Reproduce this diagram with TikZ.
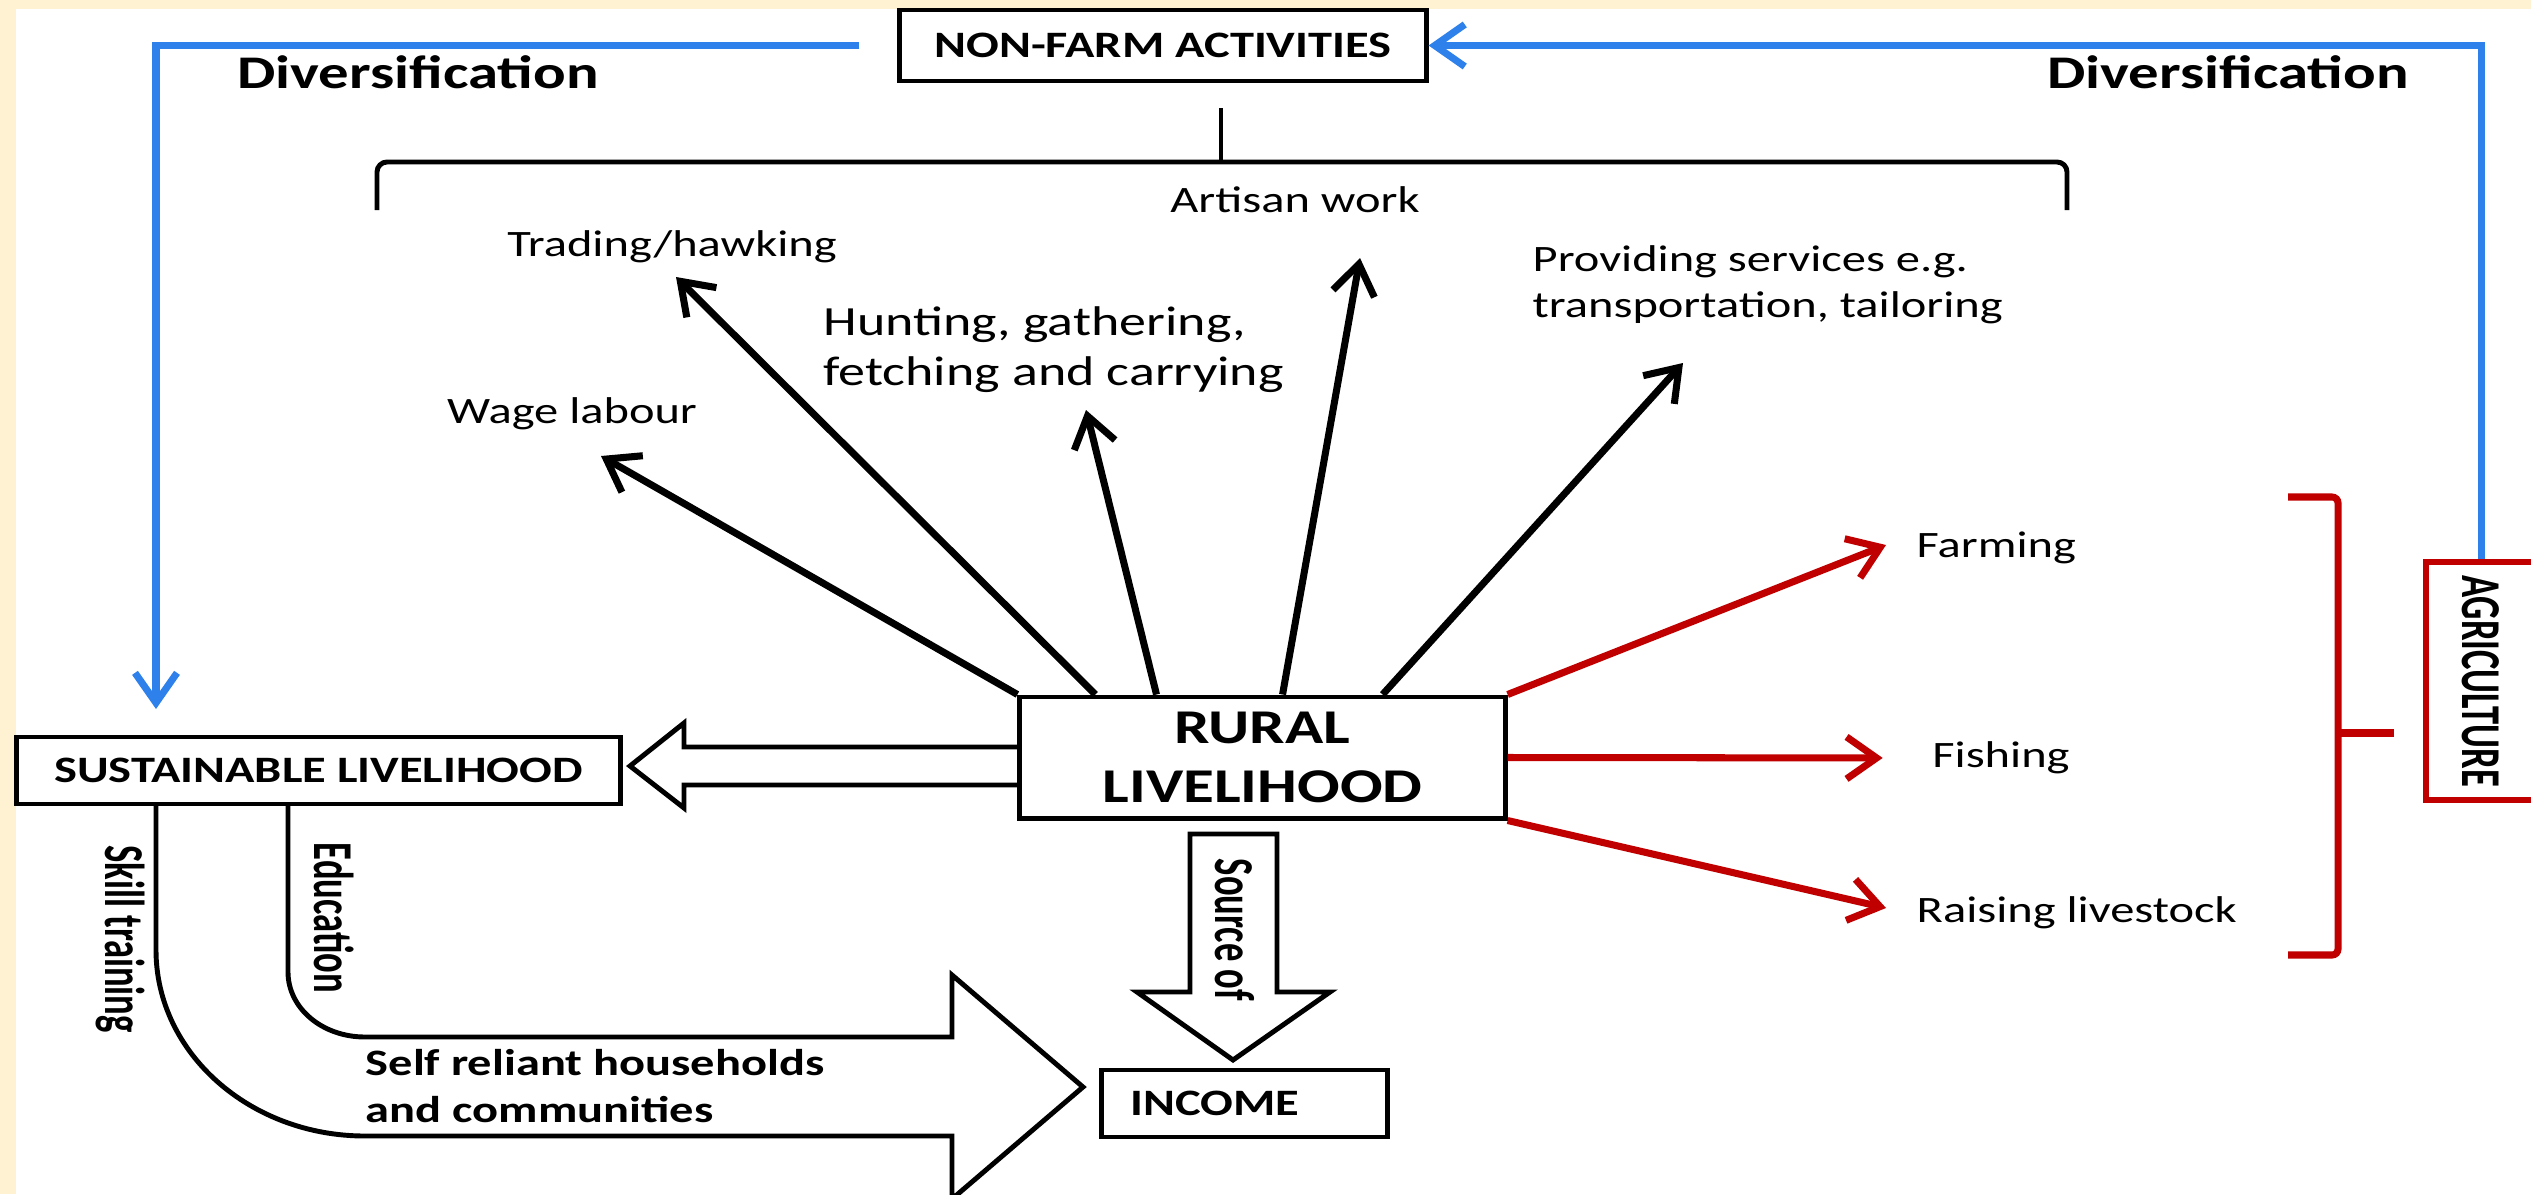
\documentclass[tikz,border=0pt]{standalone}
\usepackage{fontspec}
\setmainfont{Carlito}[FakeStretch=1.3]
\newfontfamily\vertfont{Carlito}[FakeStretch=0.65]
\usetikzlibrary{arrows.meta}
\definecolor{cream}{RGB}{255,242,210}
\definecolor{divblue}{RGB}{46,128,235}
\definecolor{agred}{RGB}{192,0,0}
\begin{document}
\begin{tikzpicture}[x=0.01cm,y=-0.01cm,
  box/.style={draw,line width=1.4pt,inner sep=0pt,font=\fontsize{10.6}{13}\selectfont\bfseries},
  lab/.style={inner sep=0pt,font=\fontsize{10.6}{13}\selectfont},
  vlab/.style={inner sep=0pt,rotate=-90,font=\vertfont\fontsize{16}{19}\selectfont\bfseries},
  div/.style={inner sep=0pt,font=\fontsize{13.3}{16}\selectfont\bfseries},
  tip/.style={-{Straight Barb[length=0.3cm,width=0.42cm]},line width=2pt},
  hollow/.style={line width=1.4pt,line join=miter}]
\fill[cream] (0,0) rectangle (2531,1194);
\fill[white] (16,9) rectangle (2531,1194);
\useasboundingbox (0,0) rectangle (2531,1194);

\node[box,minimum width=5.26cm,minimum height=0.71cm] (nf) at (1163,45.5) {NON-FARM ACTIVITIES};
\node[box,minimum width=4.85cm,minimum height=1.21cm,align=center,font=\fontsize{13.8}{16.8}\selectfont\bfseries] (rl) at (1262.5,757.5) {RURAL\\LIVELIHOOD};
\node[box,minimum width=6.03cm,minimum height=0.67cm] (sl) at (318.5,770.5) {SUSTAINABLE LIVELIHOOD};
\node[box,anchor=west,minimum height=0.67cm,text width=2.28cm,inner xsep=0.29cm] (inc) at (1099,1103.5) {INCOME};
\node[box,draw=agred,line width=1.7pt,rotate=-90,minimum width=2.38cm,minimum height=1.1cm,font=\vertfont\fontsize{16}{19}\selectfont\bfseries] (ag) at (2481,681) {AGRICULTURE};

\node[div] (dl) at (418,72) {Diversification};
\node[div] (dr) at (2228,72) {Diversification};
\node[lab] (tr) at (672,247) {Trading/hawking};
\node[lab] (aw) at (1295,200) {Artisan work};
\node[lab,anchor=west,align=left,font=\fontsize{11.8}{14.2}\selectfont] (hg) at (823,350) {Hunting, gathering,\\fetching and carrying};
\node[lab] (wl) at (572,414) {Wage labour};
\node[lab,anchor=west,align=left] (ps) at (1532,285) {Providing services e.g.\\transportation, tailoring};
\node[lab,anchor=west] (fa) at (1916,548) {Farming};
\node[lab] (fi) at (2001,758) {Fishing};
\node[lab,anchor=west] (rs) at (1916,913) {Raising livestock};
\node[lab,anchor=west,align=left,font=\fontsize{10.6}{13.4}\selectfont\bfseries] (sr) at (365,1086) {Self reliant households\\and communities};
\node[vlab] (st) at (120,939) {Skill training};
\node[vlab] (ed) at (334,918) {Education};
\node[vlab] (so) at (1235,930) {Source of};

\coordinate (t1) at (601,456);
\coordinate (t2) at (676,277);
\coordinate (t3) at (1086,410);
\coordinate (t4) at (1360,258);
\coordinate (t5) at (1683,363);
\coordinate (t6) at (1886,545);
\coordinate (t8) at (1886,908);
\coordinate (d1) at (156,709);

\draw[tip,divblue,shorten <=0.38cm] (nf.west) -| (d1);
\draw[tip,divblue] (ag.west) |- (nf.east);
\draw[line width=1.4pt,rounded corners=0.1cm] (377,210) -- (377,162) -- (2067,162) -- (2067,210);
\draw[line width=1.4pt] (1221,162) -- (1221,108);

\draw[tip] (rl.north west) -- (t1);
\draw[tip] ([xshift=0.78cm]rl.north west) -- (t2);
\draw[tip] ([xshift=1.39cm]rl.north west) -- (t3);
\draw[tip] ([xshift=2.65cm]rl.north west) -- (t4);
\draw[tip] ([xshift=3.65cm]rl.north west) -- (t5);
\draw[tip,agred] (rl.north east) -- (t6);
\draw[tip,agred,shorten >=0.49cm] (rl.east) -- (fi.west);
\draw[tip,agred] (rl.south east) -- (t8);
\draw[agred,line width=2pt,rounded corners=0.06cm] (2288,497) -- (2338,497) -- (2338,955) -- (2288,955);
\draw[agred,line width=2pt] (2338,733) -- (2394,733);

\draw[hollow] (1020,747) -- (684,747) -- (684,723) -- (630,766) -- (684,808) -- (684,785) -- (1020,785);
\draw[hollow] (1190,834) -- (1277,834) -- (1277,992) -- (1330,992) -- (1233,1060) -- (1137,992) -- (1190,992) -- cycle;
\draw[hollow] (156,804) -- (156,950) .. controls (156,1053) and (250,1136) .. (365,1136) -- (952,1136) -- (952,1199) -- (1083,1087) -- (952,975) -- (952,1037) -- (365,1037) .. controls (322,1037) and (288,1008) .. (288,972) -- (288,804);
\end{tikzpicture}
\end{document}
